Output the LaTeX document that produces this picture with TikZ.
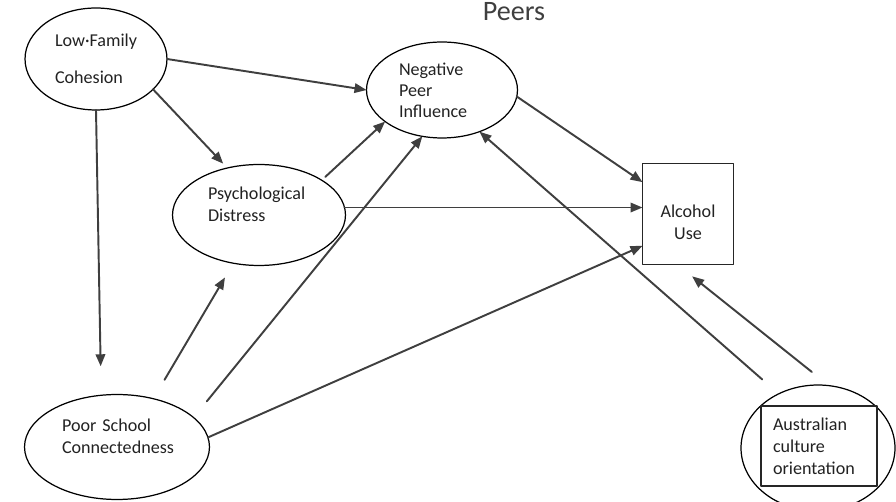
\documentclass[tikz,border=0pt]{standalone}
\usepackage{fontspec}
\setmainfont{Carlito}
\usepackage{xcolor}
\usetikzlibrary{arrows.meta,shapes.geometric}
\definecolor{inkgray}{HTML}{3F3F3F}
\definecolor{txtgray}{HTML}{222222}

\begin{document}
\begin{tikzpicture}[x=0.02cm, y=-0.02cm, line join = round, line cap = round,
    var/.style={ellipse, draw=black, line width=0.7pt, inner sep=0pt, outer sep=0pt,
      align=left, text=txtgray, font=\fontsize{10.3}{12.5}\selectfont},
    box/.style={rectangle, draw=black!85, line width=0.7pt, inner sep=0pt, outer sep=0pt,
      text=txtgray, font=\fontsize{10.3}{12.5}\selectfont},
    arr/.style={draw=inkgray, line width=1.1pt, -{Triangle[length=2.4mm,width=1.9mm]}}]
                \useasboundingbox (0,0) rectangle (896,502);
                \node[anchor=base, text=inkgray, font=\fontsize{16}{18}\selectfont] (title) at (514,21) {Peers};
                \node[var, minimum width=2.84cm, minimum height=2.04cm, text width=1.64cm] (lfc) at (96,59) {Low·Family\\[8.5pt]Cohesion};
                \node[var, minimum width=3.02cm, minimum height=1.92cm, text width=1.72cm, font=\fontsize{10.3}{12}\selectfont] (npi) at (442,90) {Negative\\Peer\\Influence};
                \node[var, minimum width=3.46cm, minimum height=2.02cm, text width=2.04cm] (pd) at (259,215) {Psychological\\Distress\\\mbox{}};
                \node[var, minimum width=3.7cm, minimum height=2.1cm, text width=2.2cm] (psc) at (117,447) {Poor School\\Connectedness\\\mbox{}};
                \node[box, minimum width=1.82cm, minimum height=2.02cm, align=center] (au) at (688,214) {\mbox{}\\[4pt]Alcohol\\Use};
                \node[var, minimum width=3.08cm, minimum height=2.52cm] (aco) at (818,448) {};
                \node[box, minimum width=2.32cm, minimum height=1.6cm, text width=1.84cm, align=left] (acobox) at (819,446) {Australian\\culture\\orientation};
                \draw[arr] (lfc.east) -- (npi.west);
                \draw[arr, shorten >=0.12cm] (lfc.-28) -- (pd.124);
                \draw[arr, shorten >=0.58cm] (lfc.south) -- (psc.107);
                \draw[arr, shorten <=0.44cm, shorten >=0.33cm] (psc.53) -- (pd.-118);
                \draw[arr, shorten <=0.42cm] (psc.21) -- (npi.-113);
                \draw[arr, shorten <=0.1cm] (pd.29) -- (npi.-151);
                \draw[arr] (pd.5) -- (pd.5 -| au.west);
                \draw[arr] (npi.-5) -- (au.145);
                \draw[arr] (psc.6) -- (au.-145);
                \draw[arr, shorten <=0.44cm] (aco.126) -- (npi.-48);
                \draw[arr, shorten <=0.44cm, shorten >=0.38cm] (aco.80) -- (au.-102);
\end{tikzpicture}
\end{document}
